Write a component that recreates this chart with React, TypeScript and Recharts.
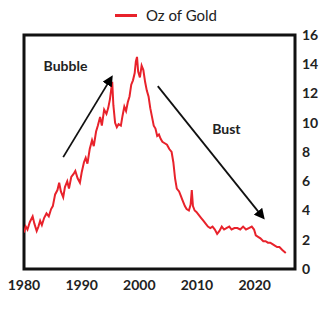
import {
  Legend,
  Line,
  LineChart,
  ReferenceArea,
  ReferenceDot,
  ReferenceLine,
  XAxis,
  YAxis,
} from "recharts";

const years = [
  1980.0, 1980.3, 1980.6, 1981.0, 1981.5, 1981.8, 1982.2, 1982.5, 1982.8, 1983.1,
  1983.5, 1983.9, 1984.3, 1984.7, 1985.0, 1985.4, 1985.8, 1986.1, 1986.4, 1986.8,
  1987.1, 1987.5, 1987.8, 1988.2, 1988.6, 1988.9, 1989.3, 1989.7, 1990.0, 1990.4,
  1990.7, 1991.0, 1991.4, 1991.8, 1992.1, 1992.5, 1992.8, 1993.2, 1993.5, 1993.9,
  1994.3, 1994.6, 1994.9, 1995.1, 1995.3, 1995.5, 1995.8, 1996.1, 1996.4, 1996.8,
  1997.1, 1997.4, 1997.7, 1998.0, 1998.3, 1998.6, 1998.9, 1999.2, 1999.4, 1999.6,
  1999.8, 2000.1, 2000.4, 2000.7, 2001.0, 2001.3, 2001.6, 2001.9, 2002.2, 2002.5,
  2002.8, 2003.1, 2003.4, 2003.7, 2004.0, 2004.4, 2004.8, 2005.2, 2005.6, 2005.9,
  2006.2, 2006.5, 2006.9, 2007.2, 2007.5, 2007.9, 2008.2, 2008.6, 2008.9, 2009.1,
  2009.3, 2009.6, 2009.9, 2010.3, 2010.7, 2011.1, 2011.5, 2011.9, 2012.3, 2012.7,
  2013.1, 2013.5, 2013.9, 2014.3, 2014.7, 2015.1, 2015.6, 2016.0, 2016.5, 2017.0,
  2017.5, 2018.0, 2018.5, 2019.0, 2019.5, 2019.9, 2020.2, 2020.6, 2021.0, 2021.5,
  2021.9, 2022.3, 2022.7, 2023.1, 2023.5, 2023.9, 2024.3, 2024.8, 2025.4,
];

const ozGold = [
  2.5, 2.9, 2.7, 3.2, 3.6, 3.1, 2.6, 2.9, 3.3, 3.0,
  3.5, 3.8, 3.6, 4.1, 4.3, 5.1, 5.4, 5.9, 5.3, 4.9,
  5.6, 6.0, 5.5, 6.3, 6.5, 6.7, 6.2, 5.9, 6.6, 7.3,
  7.6, 7.2, 8.2, 8.8, 8.4, 9.4, 9.8, 10.4, 9.8, 10.9,
  10.6, 11.0, 11.6, 12.2, 12.8, 11.2, 10.0, 9.7, 9.9, 9.8,
  10.5, 11.1, 10.8, 11.4, 11.8, 12.6, 12.9, 13.4, 14.2, 14.5,
  13.5, 13.1, 13.9, 13.6, 12.8, 12.2, 11.8, 11.0, 10.4, 9.8,
  9.6, 9.1, 9.2, 8.9, 8.7, 8.6, 8.5, 8.2, 8.0, 7.3,
  6.2, 5.5, 5.3, 5.0, 4.7, 4.3, 4.1, 4.0, 4.4, 5.4,
  4.3, 4.0, 3.9, 3.7, 3.5, 3.3, 3.1, 2.9, 2.8, 2.9,
  2.7, 2.4, 2.6, 2.9, 2.7, 2.8, 2.9, 2.7, 2.8, 2.8,
  2.7, 2.9, 2.7, 2.8, 2.9, 2.7, 2.3, 2.2, 2.1, 1.9,
  1.9, 1.8, 1.8, 1.7, 1.6, 1.5, 1.5, 1.3, 1.1,
];

const xTicks = [1980, 1990, 2000, 2010, 2020];
const yTicks = [0, 2, 4, 6, 8, 10, 12, 14, 16];

// annotation labels and arrows, in data units
const noteLabels = ["Bubble", "Bust"];
const noteX = [1987.2, 2015.1];
const noteY = [13.85, 9.55];
const arrowFrom = [
  { x: 1986.8, y: 7.65 },
  { x: 2003.2, y: 12.5 },
];
const arrowTo = [
  { x: 1995.1, y: 13.05 },
  { x: 2021.4, y: 3.55 },
];

const data = years.map((year, i) => ({ year, oz: ozGold[i] }));

const RED = "#e8222b";
const FONT = "Lato, 'DejaVu Sans', sans-serif";

function GoldLegend() {
  return (
    <div
      style={{
        display: "flex",
        alignItems: "center",
        justifyContent: "center",
        fontFamily: FONT,
        fontSize: 15,
        color: "#222",
        paddingTop: 6,
        paddingLeft: 12,
      }}
    >
      <span style={{ display: "inline-block", width: 22, height: 3, background: RED, marginRight: 9 }} />
      <span>Oz of Gold</span>
    </div>
  );
}

export default function App() {
  return (
    <div style={{ position: "absolute", left: 0, top: 0 }}>
      <LineChart width={320} height={320} data={data} margin={{ top: 35, right: 0, left: 24, bottom: 21 }}>
        <defs>
          <marker id="arrowHead" viewBox="0 0 10 10" refX="7" refY="5" markerWidth="6" markerHeight="6" orient="auto">
            <path d="M0,0 L10,5 L0,10 z" fill="#000" />
          </marker>
        </defs>
        <XAxis
          dataKey="year"
          type="number"
          domain={[1980, 2027]}
          ticks={xTicks}
          allowDataOverflow
          tickLine={false}
          axisLine={false}
          tickSize={0}
          tickMargin={11}
          height={30}
          tick={{ fontSize: 14, fontWeight: 700, fill: "#222", fontFamily: FONT }}
        />
        <YAxis
          orientation="right"
          domain={[0, 16]}
          ticks={yTicks}
          tickLine={false}
          axisLine={false}
          tickSize={0}
          tickMargin={7}
          width={25}
          tick={{ fontSize: 14, fontWeight: 700, fill: "#222", fontFamily: FONT, textAnchor: "start" }}
        />
        <Legend
          verticalAlign="middle"
          align="center"
          content={() => <GoldLegend />}
          wrapperStyle={{ top: 0, left: 0, width: 320 }}
        />
        <ReferenceArea x1={1980} x2={2027} y1={0} y2={16} fill="none" stroke="#111" strokeWidth={3} />
        <Line
          dataKey="oz"
          name="Oz of Gold"
          stroke={RED}
          strokeWidth={2}
          dot={false}
          isAnimationActive={false}
        />
        {arrowFrom.map((from, i) => (
          <ReferenceLine
            key={"arrow" + i}
            segment={[from, arrowTo[i]]}
            stroke="#111"
            strokeWidth={1.8}
            shape={(p: any) => (
              <line
                x1={p.x1}
                y1={p.y1}
                x2={p.x2}
                y2={p.y2}
                stroke="#111"
                strokeWidth={1.8}
                markerEnd="url(#arrowHead)"
              />
            )}
          />
        ))}
        {noteLabels.map((label, i) => (
          <ReferenceDot
            key={label}
            x={noteX[i]}
            y={noteY[i]}
            r={0}
            label={{
              value: label,
              position: "center",
              fontSize: 14,
              fontWeight: 700,
              fill: "#222",
              fontFamily: FONT,
            }}
          />
        ))}
      </LineChart>
    </div>
  );
}
